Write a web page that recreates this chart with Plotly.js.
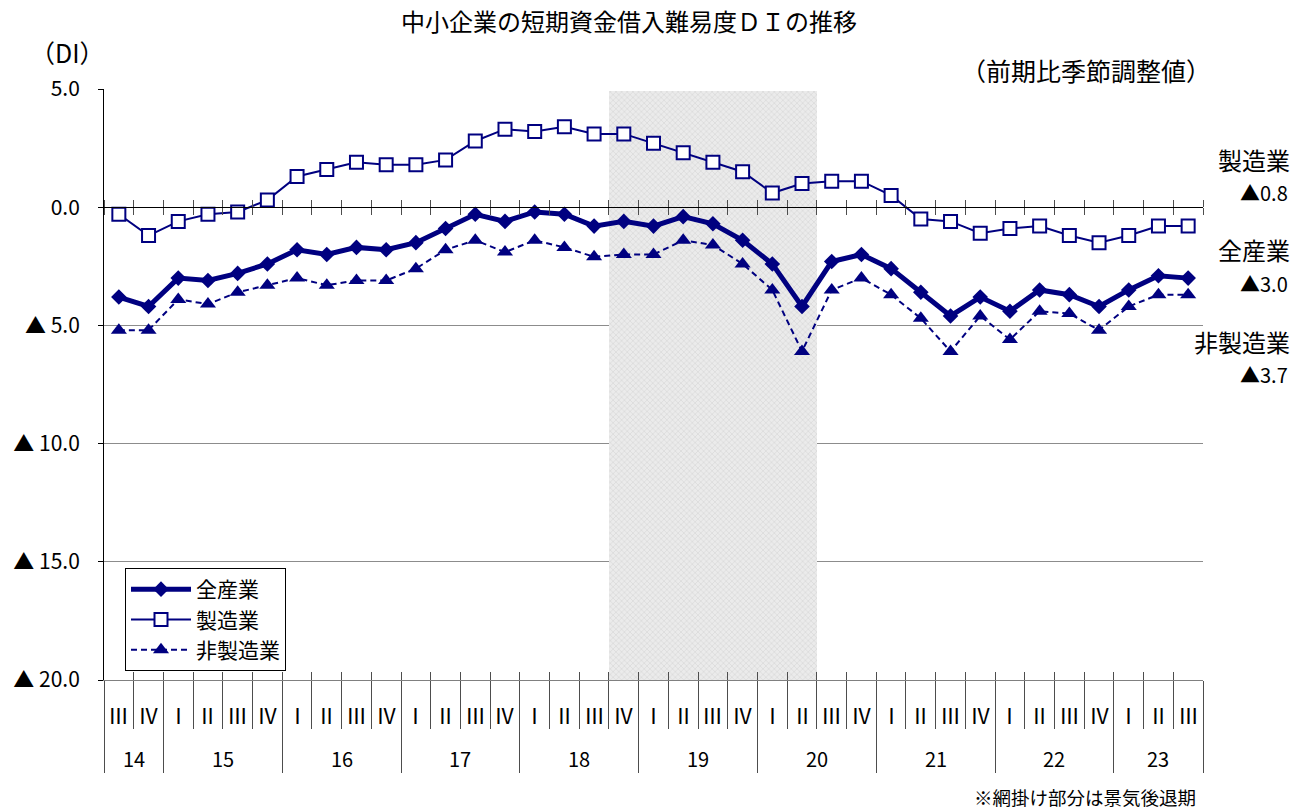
<!DOCTYPE html>
<html>
<head>
<meta charset="utf-8">
<script src="https://cdn.plot.ly/plotly-3.0.1.min.js"></script>
<style>
  html, body { margin: 0; padding: 0; background: #ffffff; }
  #chart { width: 1303px; height: 810px; }
</style>
</head>
<body>
<div id="chart"></div>
<script>
// ---------- data ----------
const quarters = ['Ⅲ','Ⅳ',
  'Ⅰ','Ⅱ','Ⅲ','Ⅳ', 'Ⅰ','Ⅱ','Ⅲ','Ⅳ', 'Ⅰ','Ⅱ','Ⅲ','Ⅳ', 'Ⅰ','Ⅱ','Ⅲ','Ⅳ',
  'Ⅰ','Ⅱ','Ⅲ','Ⅳ', 'Ⅰ','Ⅱ','Ⅲ','Ⅳ', 'Ⅰ','Ⅱ','Ⅲ','Ⅳ', 'Ⅰ','Ⅱ','Ⅲ','Ⅳ',
  'Ⅰ','Ⅱ','Ⅲ'];
const years = ['14','15','16','17','18','19','20','21','22','23'];

const allIndustries = [-3.8,-4.2,-3.0,-3.1,-2.8,-2.4,-1.8,-2.0,-1.7,-1.8,-1.5,-0.9,-0.3,-0.6,-0.2,-0.3,-0.8,-0.6,-0.8,-0.4,-0.7,-1.4,-2.4,-4.2,-2.3,-2.0,-2.6,-3.6,-4.6,-3.8,-4.4,-3.5,-3.7,-4.2,-3.5,-2.9,-3.0];
const manufacturing = [-0.3,-1.2,-0.6,-0.3,-0.2,0.3,1.3,1.6,1.9,1.8,1.8,2.0,2.8,3.3,3.2,3.4,3.1,3.1,2.7,2.3,1.9,1.5,0.6,1.0,1.1,1.1,0.5,-0.5,-0.6,-1.1,-0.9,-0.8,-1.2,-1.5,-1.2,-0.8,-0.8];
const nonManufacturing = [-5.2,-5.2,-3.9,-4.1,-3.6,-3.3,-3.0,-3.3,-3.1,-3.1,-2.6,-1.8,-1.4,-1.9,-1.4,-1.7,-2.1,-2.0,-2.0,-1.4,-1.6,-2.4,-3.5,-6.1,-3.5,-3.0,-3.7,-4.7,-6.1,-4.6,-5.6,-4.4,-4.5,-5.2,-4.2,-3.7,-3.7];

const seriesNames = ['全産業','製造業','非製造業'];
// recession (shaded) period: first and last quarter index (18Ⅳ .. 20Ⅱ)
const recessionFirst = 17;
const recessionLast = 23;
const recessionTop = 4.9;

const yTickVals = [5, 0, -5, -10, -15, -20];
const yTickText = ['5.0', '0.0', '▲ 5.0', '▲ 10.0', '▲ 15.0', '▲ 20.0'];

const titleText = '中小企業の短期資金借入難易度ＤＩの推移';
const unitText = '（DI）';
const noteText = '（前期比季節調整値）';
const footText = '※網掛け部分は景気後退期';

// ---------- derived ----------
const n = quarters.length;
const xIdx = quarters.map((_, i) => i);
const boundaries = [];
for (let i = -1; i < n; i++) boundaries.push(i + 0.5);
const yearStarts = [0];
quarters.forEach((q, i) => { if (q === 'Ⅰ' && i > 0) yearStarts.push(i); });
const yearBounds = yearStarts.map(s => s - 0.5).concat([n - 0.5]);
const yearCenters = years.map((_, k) => (yearBounds[k] + yearBounds[k + 1]) / 2);

const navy = '#000080';
const FONT = '"Noto Sans CJK JP", "Noto Sans", sans-serif';
const sepColor = '#4d4d4d';

const fmtDI = v => (v < 0 ? '▲' : '') + Math.abs(v).toFixed(1);

const xr = [-0.5, n - 0.5];

const traces = [
  {
    type: 'bar',
    x: [(recessionFirst + recessionLast) / 2],
    y: [recessionTop - (-20)],
    base: [-20],
    width: [recessionLast - recessionFirst + 1],
    marker: {
      color: '#ebebeb',
      line: { width: 0 },
      pattern: { shape: 'x', fillmode: 'overlay', fgcolor: '#c2c2c2', size: 4, solidity: 0.3 }
    },
    showlegend: false,
    hoverinfo: 'skip'
  },
  {
    type: 'scatter', mode: 'lines+markers', name: seriesNames[0],
    x: xIdx, y: allIndustries,
    line: { color: navy, width: 5 },
    marker: { symbol: 'diamond', size: 12, color: navy }
  },
  {
    type: 'scatter', mode: 'lines+markers', name: seriesNames[1],
    x: xIdx, y: manufacturing,
    line: { color: navy, width: 2 },
    marker: { symbol: 'square', size: 13, color: '#ffffff', line: { color: navy, width: 2 } }
  },
  {
    type: 'scatter', mode: 'lines+markers', name: seriesNames[2],
    x: xIdx, y: nonManufacturing,
    line: { color: navy, width: 2, dash: '6px,4px' },
    marker: { symbol: 'triangle-up', size: 14, color: navy }
  }
];
// invisible helper traces so that the overlay axes (separators / cross ticks) get drawn
['x2', 'x3', 'x4', 'x5'].forEach(ax => traces.push({
  type: 'scatter', mode: 'markers', x: xr, y: [null, null], xaxis: ax, yaxis: 'y',
  showlegend: false, hoverinfo: 'skip', marker: { opacity: 0 }
}));

const ML = 104, MR = 100, MT = 89, MB = 130, W = 1303, H = 810;
const PW = W - ML - MR, PH = H - MT - MB;
const px = x => (x - ML) / PW;
const py = y => (H - MB - y) / PH;

const annotations = [];
quarters.forEach((q, i) => annotations.push({
  x: i, y: py(715), xref: 'x', yref: 'paper', text: q, showarrow: false,
  xanchor: 'center', yanchor: 'middle', font: { family: FONT, size: 21, color: '#000' }
}));
years.forEach((yv, k) => annotations.push({
  x: yearCenters[k], y: py(758), xref: 'x', yref: 'paper', text: yv, showarrow: false,
  xanchor: 'center', yanchor: 'middle', font: { family: FONT, size: 20, color: '#000' }
}));
annotations.push(
  { x: px(629), y: py(21), xref: 'paper', yref: 'paper', text: titleText, showarrow: false,
    xanchor: 'center', yanchor: 'middle', font: { family: FONT, size: 24, color: '#000' } },
  { x: px(67), y: py(52), xref: 'paper', yref: 'paper', text: unitText, showarrow: false,
    xanchor: 'center', yanchor: 'middle', font: { family: FONT, size: 25, color: '#000' } },
  { x: px(1213), y: py(70), xref: 'paper', yref: 'paper', text: noteText, showarrow: false,
    xanchor: 'right', yanchor: 'middle', font: { family: FONT, size: 25, color: '#000' } },
  { x: px(1198), y: py(797), xref: 'paper', yref: 'paper', text: footText, showarrow: false,
    xanchor: 'right', yanchor: 'middle', font: { family: FONT, size: 18.5, color: '#000' } }
);
const sideLabels = [
  { name: seriesNames[1], val: manufacturing[n - 1], yName: 160, yVal: 192 },
  { name: seriesNames[0], val: allIndustries[n - 1], yName: 250, yVal: 283 },
  { name: seriesNames[2], val: nonManufacturing[n - 1], yName: 341, yVal: 374 }
];
sideLabels.forEach(s => {
  annotations.push({ x: px(1292), y: py(s.yName), xref: 'paper', yref: 'paper', text: s.name,
    showarrow: false, xanchor: 'right', yanchor: 'middle', font: { family: FONT, size: 24, color: '#000' } });
  annotations.push({ x: px(1290), y: py(s.yVal), xref: 'paper', yref: 'paper', text: fmtDI(s.val),
    showarrow: false, xanchor: 'right', yanchor: 'middle', font: { family: FONT, size: 20, color: '#000' } });
});

const zeroPos = (0 - (-20)) / (5 - (-20));
const baseX = { range: xr, showgrid: false, zeroline: false, showticklabels: false, fixedrange: true };

const layout = {
  width: W, height: H,
  margin: { l: ML, r: MR, t: MT, b: MB, pad: 0 },
  paper_bgcolor: '#ffffff', plot_bgcolor: '#ffffff',
  font: { family: FONT, color: '#000' },
  showlegend: true,
  hovermode: false,
  bargap: 0,
  legend: {
    x: px(125), y: py(568), xanchor: 'left', yanchor: 'top',
    bgcolor: '#ffffff', bordercolor: '#000000', borderwidth: 1,
    font: { family: FONT, size: 21, color: '#000' },
    tracegroupgap: 0, itemwidth: 60
  },
  xaxis: Object.assign({}, baseX, {
    showline: true, linecolor: '#808080', linewidth: 1,
    tickmode: 'array', tickvals: boundaries, ticks: 'inside', ticklen: 8, tickcolor: sepColor, tickwidth: 1
  }),
  xaxis2: Object.assign({}, baseX, {
    overlaying: 'x', anchor: 'free', position: zeroPos, side: 'bottom',
    showline: true, linecolor: '#000000', linewidth: 1,
    tickmode: 'array', tickvals: boundaries, ticks: 'outside', ticklen: 7, tickcolor: sepColor, tickwidth: 1
  }),
  xaxis3: Object.assign({}, baseX, {
    overlaying: 'x', anchor: 'free', position: zeroPos, side: 'top',
    showline: false,
    tickmode: 'array', tickvals: boundaries, ticks: 'outside', ticklen: 7, tickcolor: sepColor, tickwidth: 1
  }),
  xaxis4: Object.assign({}, baseX, {
    overlaying: 'x', anchor: 'y', side: 'bottom', showline: false,
    tickmode: 'array', tickvals: boundaries, ticks: 'outside', ticklen: 48, tickcolor: sepColor, tickwidth: 1
  }),
  xaxis5: Object.assign({}, baseX, {
    overlaying: 'x', anchor: 'y', side: 'bottom', showline: false,
    tickmode: 'array', tickvals: yearBounds, ticks: 'outside', ticklen: 92, tickcolor: sepColor, tickwidth: 1
  }),
  yaxis: {
    range: [-20, 5], fixedrange: true,
    tickmode: 'array', tickvals: yTickVals, ticktext: yTickText,
    ticks: 'outside', ticklen: 5, tickcolor: '#000', tickwidth: 1,
    ticklabelstandoff: 14,
    tickfont: { family: FONT, size: 21, color: '#000' },
    showgrid: true, gridcolor: '#8c8c8c', gridwidth: 1,
    zeroline: false,
    showline: true, linecolor: '#000000', linewidth: 1
  },
  annotations: annotations
};

Plotly.newPlot('chart', traces, layout, { displayModeBar: false, staticPlot: true });
</script>
</body>
</html>
